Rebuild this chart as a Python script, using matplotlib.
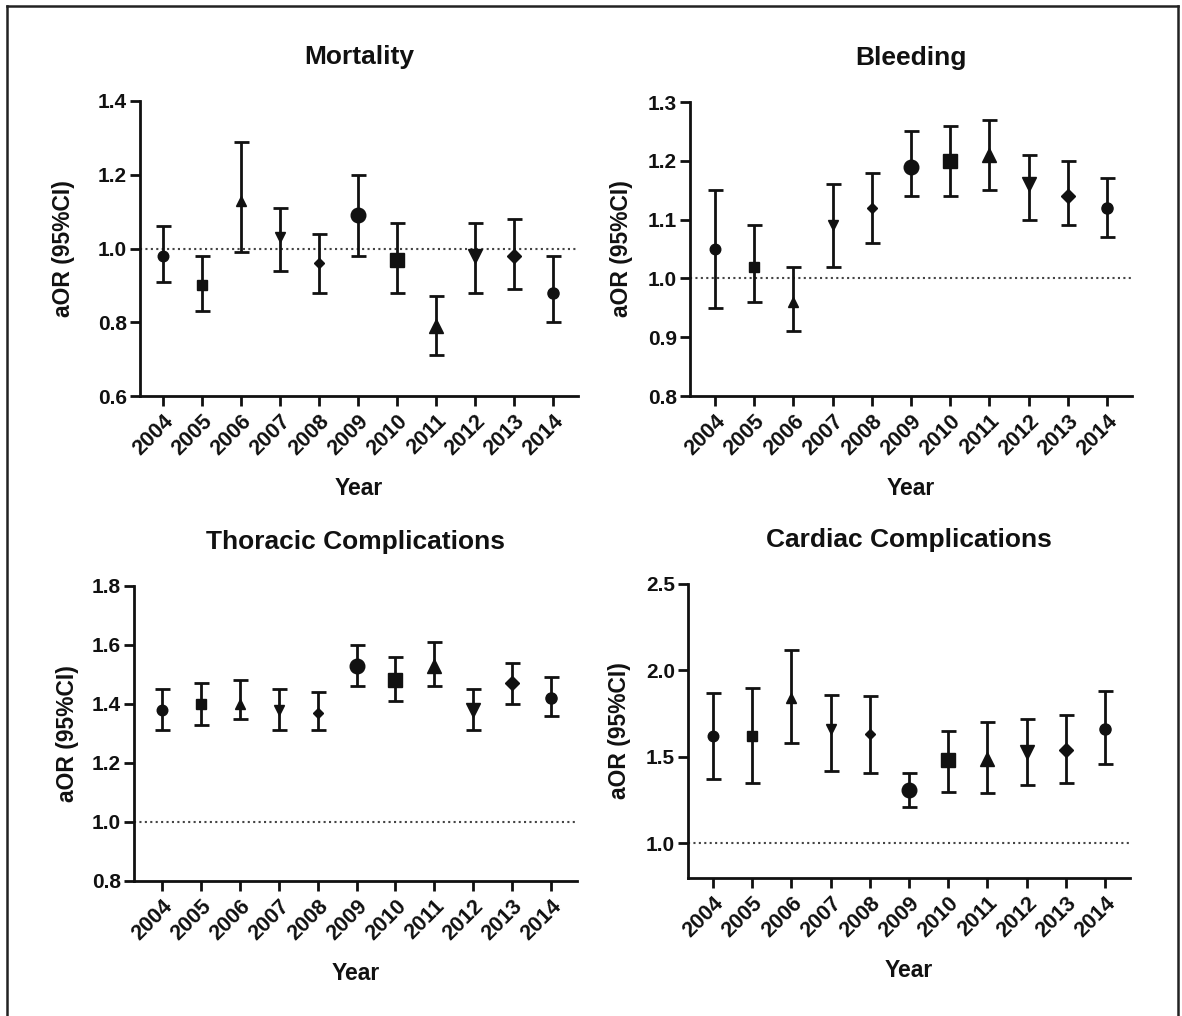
import matplotlib
matplotlib.use("Agg")
import matplotlib.pyplot as plt
from matplotlib.lines import Line2D
import numpy as np

plt.rcParams["font.family"] = ["Liberation Sans", "DejaVu Sans"]
plt.rcParams["font.weight"] = "bold"

years = ["2004", "2005", "2006", "2007", "2008", "2009",
         "2010", "2011", "2012", "2013", "2014"]

# adjusted odds ratios with 95% CI
mort_or = [0.98, 0.90, 1.13, 1.03, 0.96, 1.09, 0.97, 0.79, 0.98, 0.98, 0.88]
mort_lo = [0.91, 0.83, 0.99, 0.94, 0.88, 0.98, 0.88, 0.71, 0.88, 0.89, 0.80]
mort_hi = [1.06, 0.98, 1.29, 1.11, 1.04, 1.20, 1.07, 0.87, 1.07, 1.08, 0.98]

bleed_or = [1.05, 1.02, 0.96, 1.09, 1.12, 1.19, 1.20, 1.21, 1.16, 1.14, 1.12]
bleed_lo = [0.95, 0.96, 0.91, 1.02, 1.06, 1.14, 1.14, 1.15, 1.10, 1.09, 1.07]
bleed_hi = [1.15, 1.09, 1.02, 1.16, 1.18, 1.25, 1.26, 1.27, 1.21, 1.20, 1.17]

thor_or = [1.38, 1.40, 1.40, 1.38, 1.37, 1.53, 1.48, 1.53, 1.38, 1.47, 1.42]
thor_lo = [1.31, 1.33, 1.35, 1.31, 1.31, 1.46, 1.41, 1.46, 1.31, 1.40, 1.36]
thor_hi = [1.45, 1.47, 1.48, 1.45, 1.44, 1.60, 1.56, 1.61, 1.45, 1.54, 1.49]

card_or = [1.62, 1.62, 1.84, 1.66, 1.63, 1.31, 1.48, 1.49, 1.53, 1.54, 1.66]
card_lo = [1.37, 1.35, 1.58, 1.42, 1.41, 1.21, 1.30, 1.29, 1.34, 1.35, 1.46]
card_hi = [1.87, 1.90, 2.12, 1.86, 1.85, 1.41, 1.65, 1.70, 1.72, 1.74, 1.88]

# GraphPad-style symbol per year (shape, size in pt)
MARKERS = ["o", "s", "^", "v", "D", "o", "s", "^", "v", "D", "o"]
SIZES = [7.6, 7.6, 6.8, 6.8, 5.0, 10.5, 10.0, 10.0, 9.6, 6.8, 8.0]

panels = [
    # title, values, lo, hi, ylim, yticks, axes rect, xlim, ylabel x
    ("Mortality", mort_or, mort_lo, mort_hi, (0.6, 1.4),
     [0.6, 0.8, 1.0, 1.2, 1.4], [0.1184, 0.6102, 0.3706, 0.2904], (-0.59, 10.64), -0.174),
    ("Bleeding", bleed_or, bleed_lo, bleed_hi, (0.8, 1.3),
     [0.8, 0.9, 1.0, 1.1, 1.2, 1.3], [0.5838, 0.6102, 0.3739, 0.2894], (-0.64, 10.64), -0.154),
    ("Thoracic Complications", thor_or, thor_lo, thor_hi, (0.8, 1.8),
     [0.8, 1.0, 1.2, 1.4, 1.6, 1.8], [0.1134, 0.1329, 0.3748, 0.2904], (-0.72, 10.67), -0.151),
    ("Cardiac Complications", card_or, card_lo, card_hi, (0.8, 2.5),
     [1.0, 1.5, 2.0, 2.5], [0.5821, 0.1358, 0.3739, 0.2894], (-0.64, 10.64), -0.154),
]

fig = plt.figure(figsize=(11.82, 10.16), dpi=100)

for title, val, lo, hi, ylim, yticks, rect, xlim, ylab_x in panels:
    ax = fig.add_axes(rect)
    x = np.arange(len(years))
    val, lo, hi = np.array(val), np.array(lo), np.array(hi)
    ax.axhline(1.0, color="#444444", lw=1.5, ls=(0, (1, 1.6)), zorder=1)
    for i in x:
        ax.errorbar(i, val[i], yerr=[[val[i] - lo[i]], [hi[i] - val[i]]],
                    fmt=MARKERS[i], ms=SIZES[i], color="#111111", ecolor="#111111",
                    elinewidth=2.0, capsize=5.4, capthick=2.0, zorder=3,
                    clip_on=False)
    ax.set_xlim(*xlim)
    ax.set_ylim(*ylim)
    ax.set_yticks(yticks)
    ax.set_yticklabels([f"{t:.1f}" for t in yticks])
    ax.set_xticks(x)
    ax.set_xticklabels(years, rotation=45, ha="right", rotation_mode="anchor")
    for s in ("top", "right"):
        ax.spines[s].set_visible(False)
    for s in ("left", "bottom"):
        ax.spines[s].set_linewidth(2.0)
        ax.spines[s].set_color("#111111")
    ax.tick_params(axis="both", width=2.0, length=7.5, color="#111111",
                   labelcolor="#111111")
    ax.tick_params(axis="x", pad=3, labelsize=15.5)
    ax.tick_params(axis="y", pad=2, labelsize=15)
    ax.text(0.5, 1.15, title, transform=ax.transAxes, ha="center", va="center",
            fontsize=19, fontweight="bold", color="#111111")
    ax.text(0.5, -0.315, "Year", transform=ax.transAxes, ha="center", va="center",
            fontsize=16.5, fontweight="bold", color="#111111")
    ax.text(ylab_x, 0.5, "aOR (95%CI)", transform=ax.transAxes, ha="center",
            va="center", rotation=90, fontsize=16.5, fontweight="bold", color="#111111")

# thin frame round the whole figure (bottom edge is cropped in the source)
W, H = 1182, 1016
for xs, ys in [([7, 7], [-5, H - 6]), ([7, 1178], [H - 6, H - 6]), ([1178, 1178], [H - 6, -5])]:
    fig.add_artist(Line2D([p / W for p in xs], [p / H for p in ys],
                          transform=fig.transFigure, color="#222222", lw=1.8))

fig.savefig("out.png", dpi=100)
